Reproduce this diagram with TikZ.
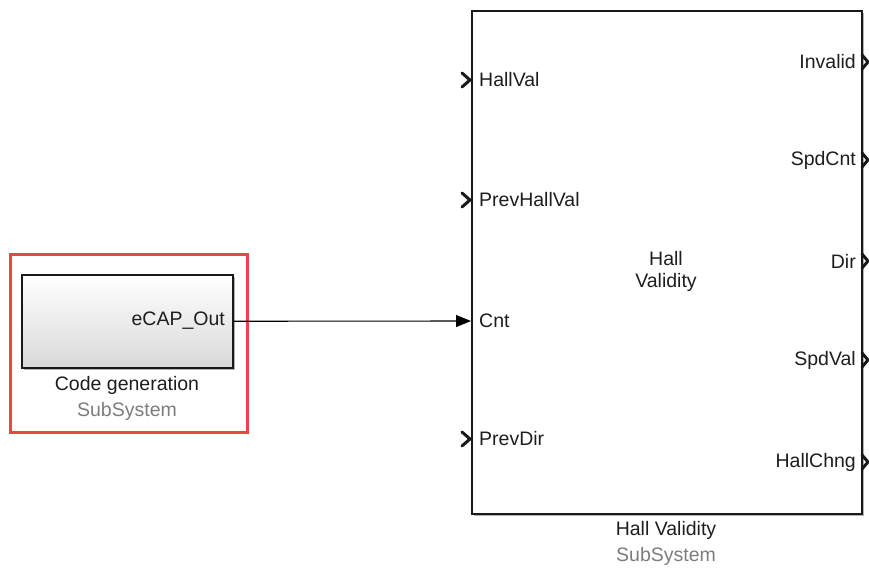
\documentclass[tikz,border=0pt]{standalone}
\usepackage{fontspec}
\setmainfont{Liberation Sans}
\usetikzlibrary{arrows.meta,shadows}
\definecolor{redframe}{RGB}{238,68,68}
\definecolor{subgray}{RGB}{125,125,125}
\definecolor{txt}{RGB}{30,30,30}
\begin{document}
\begin{tikzpicture}[x=1pt,y=-1pt,
  lbl/.style={font=\fontsize{19.5}{22}\selectfont, text=txt, inner sep=0pt},
  sublbl/.style={font=\fontsize{19.5}{22}\selectfont, text=subgray, inner sep=0pt},
  blockbox/.style={draw=black!90, line width=1.5pt, fill=white,
    drop shadow={shadow xshift=2.5pt, shadow yshift=-2.5pt, opacity=0.3, fill=black}},
  chev/.style={line width=3pt, black!90, line cap=round, line join=miter},
  conn/.style={line width=1.1pt, black, -{Triangle[length=15pt,width=12pt]}},
  frame/.style={draw=redframe, line width=3pt}
]
\useasboundingbox (0,0) rectangle (869,568);

% red highlight frame
\node[frame, minimum width=237pt, minimum height=178pt, anchor=north west, inner sep=0pt] (hl) at (9,253) {};

% Code generation subsystem
\node[blockbox, top color=white, bottom color=black!15, minimum width=211pt, minimum height=93pt, anchor=north west, inner sep=0pt] (cg) at (21,274) {};
\node[lbl, anchor=east] (cgout) at (225,321) {eCAP\_Out};
\node[lbl] (cgname) at (127,385) {Code generation};
\node[sublbl] (cgsub) at (127,411) {SubSystem};

% Hall Validity subsystem
\node[blockbox, minimum width=390pt, minimum height=503pt, anchor=north west, inner sep=0pt] (hv) at (471,10) {};
\node[lbl, align=center] (hvcenter) at (666,271) {Hall\\Validity};
\node[lbl] (hvname) at (666,530) {Hall Validity};
\node[sublbl] (hvsub) at (666,556) {SubSystem};

% input ports
\coordinate (in1) at (471,80);
\coordinate (in2) at (471,200);
\coordinate (in3) at (471,321);
\coordinate (in4) at (471,439);
\node[lbl, anchor=west] (lin1) at (479,80) {HallVal};
\node[lbl, anchor=west] (lin2) at (479,200) {PrevHallVal};
\node[lbl, anchor=west] (lin3) at (479,321) {Cnt};
\node[lbl, anchor=west] (lin4) at (479,439) {PrevDir};
\foreach \p in {in1,in2,in4}{
  \draw[chev] ([shift={(-9,-7)}]\p) -- ([shift={(-1,0)}]\p) -- ([shift={(-9,7)}]\p);
}

% output ports
\coordinate (out1) at (861,62);
\coordinate (out2) at (861,160);
\coordinate (out3) at (861,261);
\coordinate (out4) at (861,360);
\coordinate (out5) at (861,462);
\node[lbl, anchor=east] (lout1) at (856,62) {Invalid};
\node[lbl, anchor=east] (lout2) at (856,160) {SpdCnt};
\node[lbl, anchor=east] (lout3) at (856,261) {Dir};
\node[lbl, anchor=east] (lout4) at (856,360) {SpdVal};
\node[lbl, anchor=east] (lout5) at (856,462) {HallChng};
\foreach \p in {out1,out2,out3,out4,out5}{
  \draw[chev] ([shift={(1,-7)}]\p) -- ([shift={(7,0)}]\p) -- ([shift={(1,7)}]\p);
}

% connector
\draw[conn] (cg.east) -- (in3);
\end{tikzpicture}
\end{document}
